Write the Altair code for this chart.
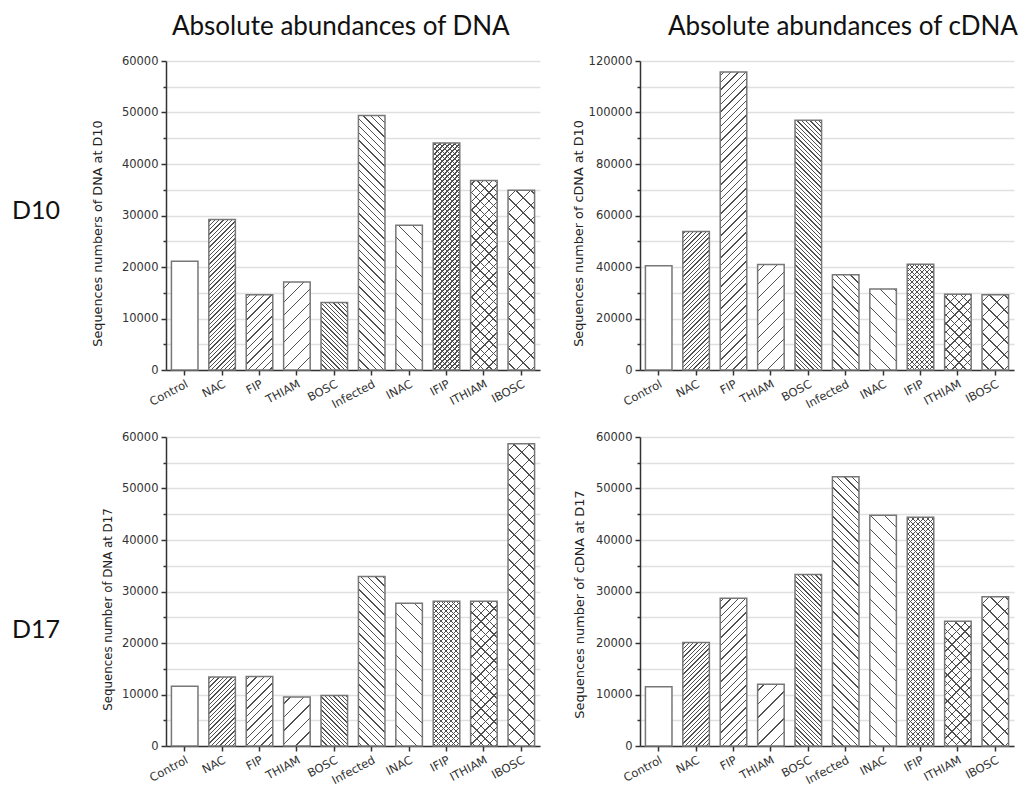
import altair as alt

# ---------------- data ----------------
categories = ["Control", "NAC", "FIP", "THIAM", "BOSC", "Infected", "INAC", "IFIP", "ITHIAM", "IBOSC"]
dna_d10 = [21100, 29200, 14600, 17100, 13100, 49400, 28100, 44100, 36800, 34900]
cdna_d10 = [40500, 53800, 115700, 41000, 97000, 37000, 31500, 41100, 29400, 29200]
dna_d17 = [11600, 13400, 13500, 9500, 9800, 32900, 27700, 28100, 28100, 58700]
cdna_d17 = [11500, 20100, 28700, 12000, 33300, 52300, 44800, 44400, 24200, 29000]

col_titles = ["Absolute abundances of DNA", "Absolute abundances of cDNA"]
row_labels = ["D10", "D17"]
y_titles = [
    "Sequences numbers of DNA at D10",
    "Sequences number of cDNA at D10",
    "Sequences number of DNA at D17",
    "Sequences number of cDNA at D17",
]
y_max = [60000, 120000, 60000, 60000]
y_minor = [5000, 10000, 5000, 5000]
y_major = [10000, 20000, 10000, 10000]

# ---------------- style ----------------
PLOT_W = 374
PAD_INNER = 0.29
PAD_OUTER = 0.145
STEP = PLOT_W / (len(categories) - PAD_INNER + 2 * PAD_OUTER)
BAND = STEP * (1 - PAD_INNER)

# hatch per category: directions and period (px)
HATCH = {
    "Control": ([], 0),
    "NAC": (["/"], 4.3),
    "FIP": (["/"], 7.3),
    "THIAM": (["/"], 13.5),
    "BOSC": (["\\"], 4.3),
    "Infected": (["\\"], 7.3),
    "INAC": (["\\"], 14.0),
    "IFIP": (["/", "\\"], 5.0),
    "ITHIAM": (["/", "\\"], 8.7),
    "IBOSC": (["/", "\\"], 15.0),
}
HATCH_COLOR = "#505050"
LINE_W = 1.3


def stripes(w, h, direction, period, bg):
    L = w + h
    a = L / (w * w + h * h)
    if direction == "/":
        x1, y1, x2, y2 = 0, 0, a * w, a * h
    else:
        x1, y1, x2, y2 = 0, 1, a * w, 1 - a * h
    stops = [{"offset": 0, "color": bg}]
    c = period / 2
    while c - LINE_W / 2 < L:
        o1 = max(0.0, (c - LINE_W / 2) / L)
        o2 = min(1.0, (c + LINE_W / 2) / L)
        stops += [
            {"offset": round(o1, 5), "color": bg},
            {"offset": round(o1, 5), "color": HATCH_COLOR},
            {"offset": round(o2, 5), "color": HATCH_COLOR},
            {"offset": round(o2, 5), "color": bg},
        ]
        c += period
    stops.append({"offset": 1, "color": bg})
    return {"gradient": "linear", "x1": x1, "y1": y1, "x2": round(x2, 6),
            "y2": round(y2, 6), "stops": stops}


def panel(values, ymax, minor, major, H, ytitle, ytitle_size, ytitle_x, ytitle_y,
          col_title=None, col_dx=0, row_label=None, row_y=0):
    recs = []
    for c, v in zip(categories, values):
        h = v / ymax * H
        dirs, p = HATCH[c]
        g1 = stripes(BAND, h, dirs[0], p, "#ffffff") if dirs else "#ffffff"
        g2 = stripes(BAND, h, dirs[1], p, "rgba(255,255,255,0)") if len(dirs) == 2 else "transparent"
        recs.append({"cat": c, "value": v, "g1": g1, "g2": g2})
    base = alt.Chart(alt.Data(values=recs))

    x = alt.X(
        "cat:N", sort=categories, title=None,
        scale=alt.Scale(paddingInner=PAD_INNER, paddingOuter=PAD_OUTER),
        axis=alt.Axis(labelAngle=-28, labelAlign="right", labelBaseline="top",
                      labelPadding=3, tickSize=5, tickWidth=1.5, tickColor="#333",
                      domainColor="#333", domainWidth=1.5, labelFont="DejaVu Sans",
                      labelFontSize=11.5, labelColor="#333", grid=False),
    )
    y = alt.Y(
        "value:Q", stack=None,
        scale=alt.Scale(domain=[0, ymax], nice=False),
        axis=alt.Axis(
            values=list(range(0, ymax + 1, minor)),
            labelExpr=f"datum.value % {major} === 0 ? datum.label : ''",
            format="d", labelOverlap=False,
            tickSize={"condition": {"test": f"datum.value % {major} === 0", "value": 5}, "value": 3},
            tickWidth=1.5, tickColor="#333", domainColor="#333", domainWidth=1.5,
            labelFont="DejaVu Sans", labelFontSize=11.5, labelColor="#333", labelPadding=3,
            grid=True, gridColor="#e0e0e0", gridWidth=1.5,
            title=ytitle, titleFont="DejaVu Sans", titleFontWeight="normal",
            titleFontSize=ytitle_size, titleColor="#222", titleAngle=-90,
            titleAlign="center", titleBaseline="alphabetic",
            titleX=ytitle_x, titleY=ytitle_y,
        ),
    )
    l1 = base.mark_bar(aria=False).encode(x=x, y=y, fill=alt.Fill("g1:N", scale=None))
    l2 = base.mark_bar(aria=False).encode(x=x, y=y, fill=alt.Fill("g2:N", scale=None))
    l3 = base.mark_bar(aria=False, fillOpacity=0, stroke="#777777", strokeWidth=1.5).encode(x=x, y=y)
    layers = [l1, l2, l3]
    if col_title:
        layers.append(
            alt.Chart(alt.Data(values=[{"t": col_title}])).mark_text(
                align="left", baseline="alphabetic", font="Lato", fontSize=26, color="#111"
            ).encode(x=alt.value(col_dx), y=alt.value(-26), text="t:N")
        )
    if row_label:
        layers.append(
            alt.Chart(alt.Data(values=[{"t": row_label}])).mark_text(
                align="left", baseline="alphabetic", font="Lato", fontSize=25, color="#111"
            ).encode(x=alt.value(-154), y=alt.value(row_y), text="t:N")
        )
    return alt.layer(*layers).properties(width=PLOT_W, height=H)


tl = panel(dna_d10, y_max[0], y_minor[0], y_major[0], 309, y_titles[0], 12.8, -64.5, 172,
           col_title=col_titles[0], col_dx=6, row_label=row_labels[0], row_y=158)
tr = panel(cdna_d10, y_max[1], y_minor[1], y_major[1], 309, y_titles[1], 12.8, -58, 172,
           col_title=col_titles[1], col_dx=28)
bl = panel(dna_d17, y_max[2], y_minor[2], y_major[2], 309, y_titles[2], 11.8, -55, 172,
           row_label=row_labels[1], row_y=201)
br = panel(cdna_d17, y_max[3], y_minor[3], y_major[3], 309, y_titles[3], 12.9, -57, 167)

chart = alt.concat(
    tl, tr, bl, br, columns=2, spacing={"row": 67, "column": 100}, bounds="flush"
).properties(
    padding={"left": 4, "top": 6, "right": 0, "bottom": 10},
    background="white",
).configure_view(stroke=None)

chart.save("out.html", embed_options={"renderer": "svg", "actions": False})
